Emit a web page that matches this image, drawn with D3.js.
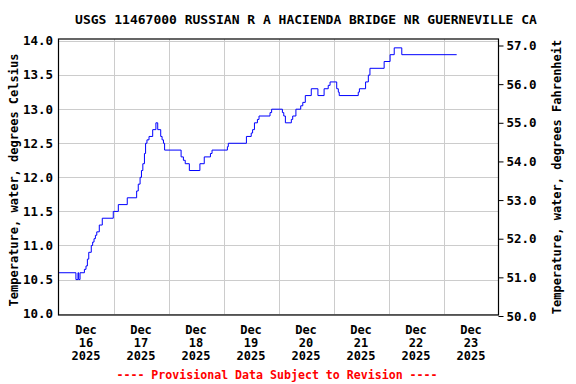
<!DOCTYPE html>
<html>
<head>
<meta charset="utf-8">
<script src="https://cdn.jsdelivr.net/npm/d3@7"></script>
<style>
  body { margin: 0; background: #fff; }
  svg { display: block; }
  text { font-family: "DejaVu Sans Mono", monospace; font-weight: bold; fill: #000; }
</style>
</head>
<body>
<div id="chart"></div>
<script>
// readings: hours after Dec 16 2025 00:00, deg C (change points of the step trace)
const hours = [0, 7.6, 8.5, 8.8, 9.4, 11.3, 12.0, 12.6, 13.2, 14.3, 14.9, 15.5, 16.1, 16.7, 17.8, 19.1,
  23.9, 26.1, 30.0, 34.1, 34.8, 35.6, 36.2, 36.8, 37.5, 38.0, 38.6, 39.5, 41.1, 42.5, 43.3, 44.6,
  45.2, 45.8, 46.3, 53.5, 54.5, 55.3, 57.1, 61.7, 63.6, 66.3, 67.0, 73.7, 74.1, 82.0, 84.1, 84.7,
  85.5, 86.8, 87.5, 92.3, 93.0, 97.7, 98.3, 99.0, 101.6, 102.2, 103.6, 105.7, 106.6, 107.7, 110.3,
  113.2, 115.9, 117.7, 118.5, 121.4, 122.1, 122.5, 130.8, 131.3, 134.0, 135.2, 135.9, 142.1, 144.7,
  146.5, 149.8, 173.75];
const tempC = [10.6, 10.5, 10.6, 10.5, 10.6, 10.65, 10.7, 10.8, 10.9, 11.0, 11.05, 11.1, 11.15, 11.2, 11.3, 11.4,
  11.5, 11.6, 11.7, 11.8, 11.9, 12.0, 12.1, 12.2, 12.35, 12.5, 12.55, 12.6, 12.7, 12.8, 12.7, 12.6,
  12.55, 12.5, 12.4, 12.3, 12.25, 12.2, 12.1, 12.2, 12.3, 12.35, 12.4, 12.45, 12.5, 12.6, 12.65, 12.7,
  12.8, 12.85, 12.9, 12.95, 13.0, 12.95, 12.9, 12.8, 12.85, 12.9, 13.0, 13.05, 13.1, 13.2, 13.3,
  13.2, 13.3, 13.35, 13.4, 13.3, 13.25, 13.2, 13.25, 13.3, 13.4, 13.5, 13.6, 13.7, 13.8,
  13.9, 13.8, 13.8];

const leftTicks = [10.0, 10.5, 11.0, 11.5, 12.0, 12.5, 13.0, 13.5, 14.0];
const rightTicks = [50, 51, 52, 53, 54, 55, 56, 57];
const dayLabels = ["16", "17", "18", "19", "20", "21", "22", "23"];

const title = "USGS 11467000 RUSSIAN R A HACIENDA BRIDGE NR GUERNEVILLE CA";
const footer = "---- Provisional Data Subject to Revision ----";

const W = 576, H = 384;
const m = { left: 58.5, right: 498.5, top: 39, bottom: 315 };
const t0 = new Date(2025, 11, 16);

const svg = d3.select('#chart').append('svg')
  .attr('width', W).attr('height', H);

const x = d3.scaleTime()
  .domain([t0, d3.timeHour.offset(t0, 192)])
  .range([m.left, m.right]);
const y = d3.scaleLinear().domain([9.98, 14.03]).range([m.bottom, m.top]);
const yF = d3.scaleLinear().domain([50, 57]).range([316, 45.5]);

const data = hours.map((h, i) => ({ t: new Date(t0.getTime() + h * 3600e3), v: tempC[i] }));

// grid
const grid = svg.append('g').attr('stroke', '#cccccc').attr('stroke-width', 1);
grid.selectAll('.h').data(leftTicks).enter().append('line')
  .attr('x1', m.left).attr('x2', m.right)
  .attr('y1', d => Math.round(y(d)) + 0.5).attr('y2', d => Math.round(y(d)) + 0.5);
const days = d3.range(1, 8).map(i => d3.timeDay.offset(t0, i));
grid.selectAll('.v').data(days).enter().append('line')
  .attr('x1', d => Math.round(x(d)) + 0.5).attr('x2', d => Math.round(x(d)) + 0.5)
  .attr('y1', m.top).attr('y2', m.bottom);

// data line
svg.append('path')
  .datum(data)
  .attr('fill', 'none')
  .attr('stroke', '#0000ff')
  .attr('stroke-width', 1)
  .attr('d', d3.line().x(d => x(d.t)).y(d => y(d.v)).curve(d3.curveStepAfter));

// frame
svg.append('rect')
  .attr('x', m.left).attr('y', m.top)
  .attr('width', m.right - m.left).attr('height', m.bottom - m.top)
  .attr('fill', 'none').attr('stroke', '#000').attr('stroke-width', 1.2);

// left labels
svg.append('g').selectAll('text').data(leftTicks).enter().append('text')
  .attr('x', 53).attr('y', d => y(d)).attr('dy', '0.35em')
  .attr('text-anchor', 'end').attr('font-size', 12.5)
  .text(d => d.toFixed(1));

// right axis
const rAxis = svg.append('g')
  .attr('transform', 'translate(' + m.right + ',0)')
  .call(d3.axisRight(yF).tickValues(rightTicks).tickSize(5).tickSizeOuter(0).tickPadding(3)
    .tickFormat(d => d.toFixed(1)));
rAxis.select('.domain').remove();
rAxis.selectAll('line').attr('stroke', '#000');
rAxis.selectAll('text')
  .attr('font-size', 12.5)
  .attr('font-family', '"DejaVu Sans Mono", monospace')
  .attr('font-weight', 'bold')
  .attr('fill', '#000');

// x labels at noon
const xl = svg.append('g').selectAll('g').data(dayLabels).enter().append('g')
  .attr('transform', (d, i) => 'translate(' + x(d3.timeHour.offset(t0, i * 24 + 12)) + ',0)');
xl.append('text').attr('y', 334).attr('text-anchor', 'middle').attr('font-size', 12).text('Dec');
xl.append('text').attr('y', 347).attr('text-anchor', 'middle').attr('font-size', 12).text(d => d);
xl.append('text').attr('y', 360).attr('text-anchor', 'middle').attr('font-size', 12).text('2025');

// titles
svg.append('text').attr('x', 306).attr('y', 24).attr('text-anchor', 'middle')
  .attr('font-size', 13).text(title);
svg.append('text').attr('transform', 'translate(18,180) rotate(-90)')
  .attr('text-anchor', 'middle').attr('font-size', 12)
  .text('Temperature, water, degrees Celsius');
svg.append('text').attr('transform', 'translate(561,177) rotate(-90)')
  .attr('text-anchor', 'middle').attr('font-size', 12)
  .text('Temperature, water, degrees Fahrenheit');
svg.append('text').attr('x', 277).attr('y', 379).attr('text-anchor', 'middle')
  .attr('font-size', 11.6).style('fill', '#ff0000').text(footer);
</script>
</body>
</html>
